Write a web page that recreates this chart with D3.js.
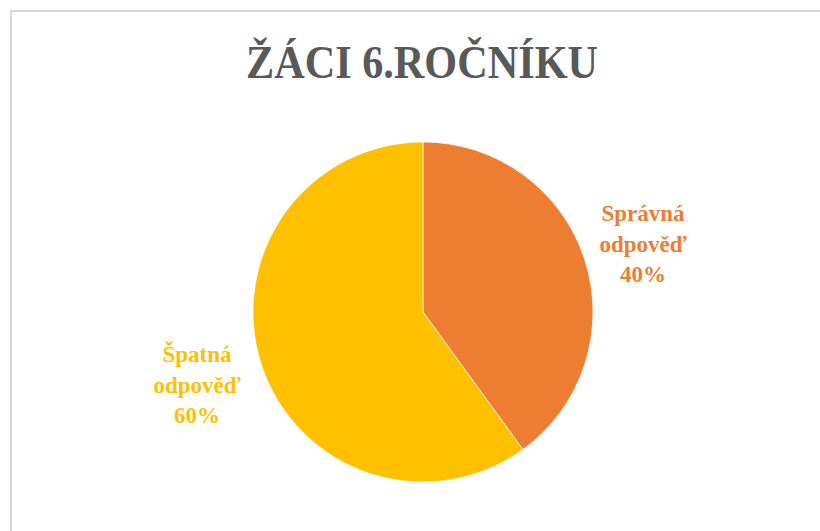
<!DOCTYPE html>
<html>
<head>
<meta charset="utf-8">
<script src="https://cdn.jsdelivr.net/npm/d3@7"></script>
<style>
  html, body { margin: 0; padding: 0; background: #fff; }
  svg { display: block; }
</style>
</head>
<body>
<svg id="chart" width="820" height="531"></svg>
<script>
const title = "ŽÁCI 6.ROČNÍKU";
const categories = ["Správná odpověď", "Špatná odpověď"];
const values = [40, 60];
const colors = ["#ED7D31", "#FFC000"];

const W = 820, H = 531;
const svg = d3.select("#chart");

// chart area border (top and left visible)
svg.append("path")
  .attr("d", "M11,531 L11,11 L820,11")
  .attr("fill", "none")
  .attr("stroke", "#d9d9d9")
  .attr("stroke-width", 2);

svg.append("text")
  .attr("x", 422)
  .attr("y", 78)
  .attr("text-anchor", "middle")
  .attr("font-family", "'Liberation Serif', 'Times New Roman', serif")
  .attr("font-weight", "bold")
  .attr("font-size", 46)
  .attr("textLength", 352)
  .attr("lengthAdjust", "spacingAndGlyphs")
  .attr("fill", "#595959")
  .text(title);

const cx = 423, cy = 312, r = 170;
const data = categories.map((c, i) => ({ cat: c, value: values[i], color: colors[i] }));
const pie = d3.pie().value(d => d.value).sort(null);
const arc = d3.arc().innerRadius(0).outerRadius(r);

const g = svg.append("g").attr("transform", `translate(${cx},${cy})`);
g.selectAll("path.slice")
  .data(pie(data))
  .join("path")
  .attr("class", "slice")
  .attr("d", arc)
  .attr("fill", d => d.data.color)
  .attr("stroke", "#ffffff")
  .attr("stroke-width", 0.7);

const total = d3.sum(values);
const labelPos = [[643, 221], [197, 362]];
data.forEach((d, i) => {
  const words = d.cat.split(" ");
  const lines = [words[0], words.slice(1).join(" "), Math.round(d.value / total * 100) + "%"];
  const t = svg.append("text")
    .attr("text-anchor", "middle")
    .attr("font-family", "'Liberation Serif', 'Times New Roman', serif")
    .attr("font-weight", "bold")
    .attr("font-size", 23)
    .attr("fill", d.color);
  lines.forEach((ln, j) => {
    t.append("tspan")
      .attr("x", labelPos[i][0])
      .attr("y", labelPos[i][1] + j * 30.5)
      .text(ln);
  });
});
</script>
</body>
</html>
